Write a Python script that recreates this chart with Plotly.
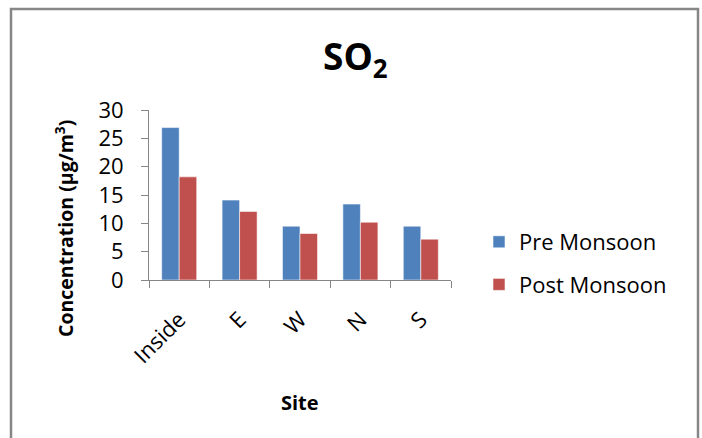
import plotly.graph_objects as go

# Sites and seasonal SO2 concentrations (µg/m³)
sites = ["Inside", "E", "W", "N", "S"]
pre_monsoon = [26.9, 14.1, 9.5, 13.4, 9.5]
post_monsoon = [18.2, 12.1, 8.2, 10.2, 7.2]
y_ticks = [0, 5, 10, 15, 20, 25, 30]

FONT = "Open Sans"
AXIS_GREY = "#868686"

W, H = 702, 438
L, R, T, B = 149, 251, 110, 158
pw, ph = W - L - R, H - T - B


def px_to_paper(x, y):
    return (x - L) / pw, (H - B - y) / ph


fig = go.Figure()
fig.add_trace(go.Bar(
    x=sites, y=pre_monsoon, name="Pre Monsoon",
    marker=dict(color="#4F81BD", line=dict(color="rgba(255,255,255,0.55)", width=1)),
    legendgroup="pre",
))
fig.add_trace(go.Bar(
    x=sites, y=post_monsoon, name="Post Monsoon",
    marker=dict(color="#C0504D", line=dict(color="rgba(255,255,255,0.55)", width=1)),
    legendgroup="post",
))

fig.update_layout(
    width=W, height=H,
    margin=dict(l=L, r=R, t=T, b=B, pad=0),
    paper_bgcolor="white", plot_bgcolor="white",
    barmode="group", bargap=0.42, bargroupgap=0,
    font=dict(family=FONT, color="#000000", size=20),
    showlegend=True,
    legend=dict(
        x=px_to_paper(479, 0)[0], y=px_to_paper(0, 221)[1],
        xanchor="left", yanchor="top",
        font=dict(family=FONT, size=22, color="#000000"),
        tracegroupgap=11, bgcolor="rgba(0,0,0,0)",
    ),
    xaxis=dict(
        type="category", tickson="boundaries", ticks="outside", ticklen=7,
        tickcolor=AXIS_GREY, showline=True, linecolor=AXIS_GREY, linewidth=1,
        showgrid=False, tickangle=-45, tickfont=dict(size=22),
        ticklabelstandoff=17,
    ),
    yaxis=dict(
        range=[0, 30], tickvals=y_ticks, ticks="outside", ticklen=7,
        tickcolor=AXIS_GREY, showline=True, linecolor=AXIS_GREY, linewidth=1,
        showgrid=False, zeroline=False, tickfont=dict(size=22),
        ticklabelstandoff=13,
    ),
)

# Chart title
tx, ty = px_to_paper(355, 58)
fig.add_annotation(
    x=tx, y=ty, xref="paper", yref="paper", showarrow=False,
    xanchor="center", yanchor="middle",
    text="<b>SO<sub>2</sub></b>", font=dict(family=FONT, size=37, color="#000000"),
)

# Axis titles
ax, ay = px_to_paper(64, 229)
fig.add_annotation(
    x=ax, y=ay, xref="paper", yref="paper", showarrow=False, textangle=-90,
    xanchor="center", yanchor="middle",
    text="<b>Concentration (µg/m<sup>3</sup>)</b>",
    font=dict(family=FONT, size=19.5, color="#000000"),
)
sx, sy = px_to_paper(300, 402)
fig.add_annotation(
    x=sx, y=sy, xref="paper", yref="paper", showarrow=False,
    xanchor="center", yanchor="middle",
    text="<b>Site</b>", font=dict(family=FONT, size=20, color="#000000"),
)

# Chart frame
x0, y0 = px_to_paper(11, 450)
x1, y1 = px_to_paper(698, 9)
fig.add_shape(
    type="rect", xref="paper", yref="paper", x0=x0, y0=y0, x1=x1, y1=y1,
    line=dict(color=AXIS_GREY, width=2.5), fillcolor="rgba(0,0,0,0)", layer="below",
)

fig.write_html("out.html")
